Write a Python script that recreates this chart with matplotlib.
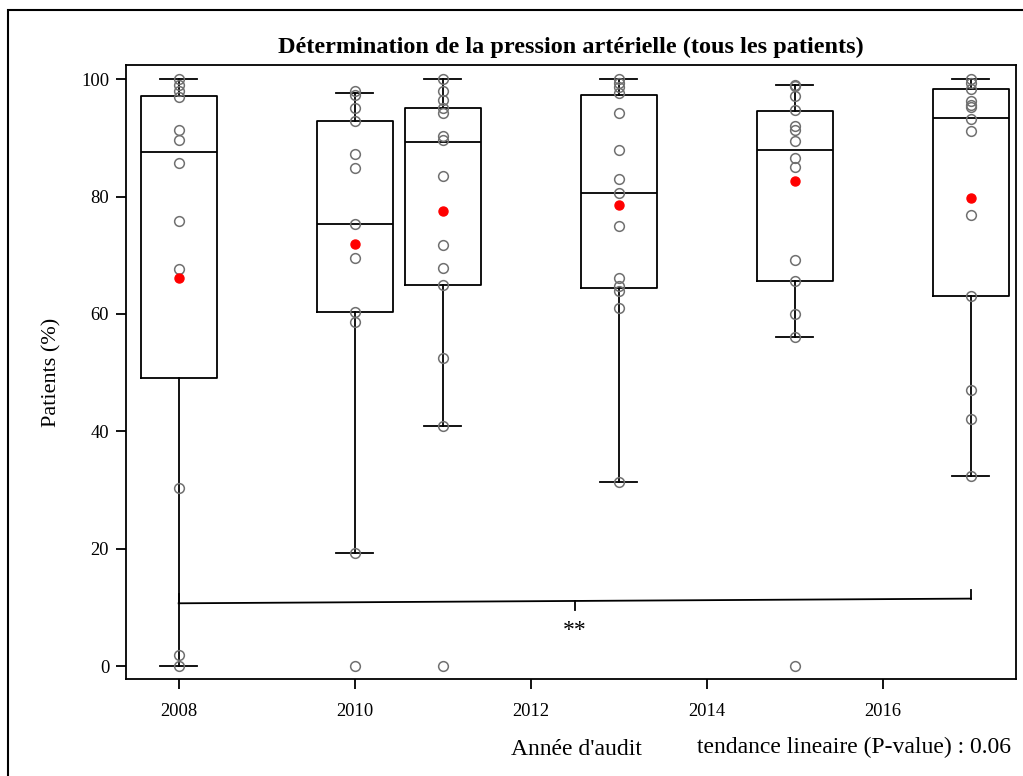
import matplotlib
matplotlib.use("Agg")
import matplotlib.pyplot as plt
from matplotlib.patches import Rectangle

years = [2008, 2010, 2011, 2013, 2015, 2017]

pts_2008 = [100, 99, 98, 97, 91.3, 89.6, 85.7, 75.8, 67.7, 30.3, 1.9, 0]
pts_2010 = [98, 97.3, 95.1, 92.9, 87.2, 84.8, 75.3, 69.5, 60.4, 58.6, 19.2, 0]
pts_2011 = [100, 98, 96.4, 95.1, 94.2, 90.4, 89.7, 83.6, 71.8, 67.8, 65.0, 52.5, 40.9, 0]
pts_2013 = [100, 99.4, 98.7, 97.7, 94.3, 88.0, 83.0, 80.7, 75.0, 66.1, 64.7, 64.0, 61.0, 31.3]
pts_2015 = [99.1, 98.8, 97.1, 94.7, 92.1, 91.4, 89.4, 86.6, 85.0, 69.2, 65.6, 60.0, 56.0, 0]
pts_2017 = [100, 99.4, 98.4, 96.3, 95.7, 95.2, 93.2, 91.1, 76.9, 63.1, 47.1, 42.1, 32.4]
points = [pts_2008, pts_2010, pts_2011, pts_2013, pts_2015, pts_2017]

whisker_low = [0, 19.2, 40.9, 31.3, 56.0, 32.4]
q1 = [49.1, 60.3, 65.0, 64.5, 65.6, 63.1]
median = [87.6, 75.3, 89.3, 80.7, 87.9, 93.4]
q3 = [97.1, 92.9, 95.1, 97.4, 94.6, 98.4]
whisker_high = [100, 97.7, 100, 100, 99.1, 100]
means = [66.2, 72.0, 77.6, 78.5, 82.6, 79.8]

trend_x = [2008, 2017]
trend_y = [10.7, 11.5]
star_x = 2012.5

plt.rcParams['font.family'] = ['Liberation Serif', 'DejaVu Serif']

fig = plt.figure(figsize=(10.23, 7.76), dpi=100)
ax = fig.add_axes([0.123, 0.125, 0.870, 0.791])

stats = []
for i in range(len(years)):
    stats.append(dict(med=median[i], q1=q1[i], q3=q3[i],
                      whislo=whisker_low[i], whishi=whisker_high[i], fliers=[]))
ax.bxp(stats, positions=years, widths=0.86, showfliers=False,
       boxprops=dict(color='black', linewidth=1.3),
       medianprops=dict(color='black', linewidth=1.3),
       whiskerprops=dict(color='black', linewidth=1.3),
       capprops=dict(color='black', linewidth=1.3),
       capwidths=0.42, manage_ticks=False)

for yr, p in zip(years, points):
    ax.plot([yr] * len(p), p, linestyle='none', marker='o', markersize=7,
            markerfacecolor='none', markeredgecolor='#707070', markeredgewidth=1.1,
            zorder=3)

ax.plot(years, means, linestyle='none', marker='o', markersize=6.5,
        color='red', markeredgecolor='red', zorder=4)

# trend line with end ticks
ax.plot(trend_x, trend_y, color='black', linewidth=1.3)
ax.plot([trend_x[0], trend_x[0]], [trend_y[0], trend_y[0] + 1.5], color='black', linewidth=1.3)
ax.plot([trend_x[1], trend_x[1]], [trend_y[1], trend_y[1] + 1.5], color='black', linewidth=1.3)
ym = trend_y[0] + (trend_y[1] - trend_y[0]) * (star_x - trend_x[0]) / (trend_x[1] - trend_x[0])
ax.plot([star_x, star_x], [ym, ym - 1.5], color='black', linewidth=1.3)
ax.text(star_x, ym - 5.0, '**', ha='center', va='center', fontsize=17)

ax.set_xlim(2007.4, 2017.51)
ax.set_ylim(-2.2, 102.4)
ax.set_xticks([2008, 2010, 2012, 2014, 2016])
ax.set_yticks([0, 20, 40, 60, 80, 100])
ax.tick_params(axis='both', direction='out', length=7, width=1.3, labelsize=13.3, pad=5)
ax.tick_params(axis='x', pad=10)
for s in ax.spines.values():
    s.set_linewidth(1.3)

ax.set_ylabel('Patients (%)', fontsize=16, labelpad=14)
ax.set_title("Détermination de la pression artérielle (tous les patients)",
             fontsize=17.5, fontweight='bold', pad=9)

fig.text(0.563, 0.034, "Année d'audit", ha='center', va='center', fontsize=17)
fig.text(0.988, 0.037, "tendance lineaire (P-value) : 0.06", ha='right', va='center', fontsize=17)

fig.patches.append(Rectangle((8 / 1023, -0.1), 1.2, 1 - 10 / 776 + 0.1,
                             transform=fig.transFigure, fill=False,
                             edgecolor='black', linewidth=1.5))

fig.savefig('out.png', dpi=100)
